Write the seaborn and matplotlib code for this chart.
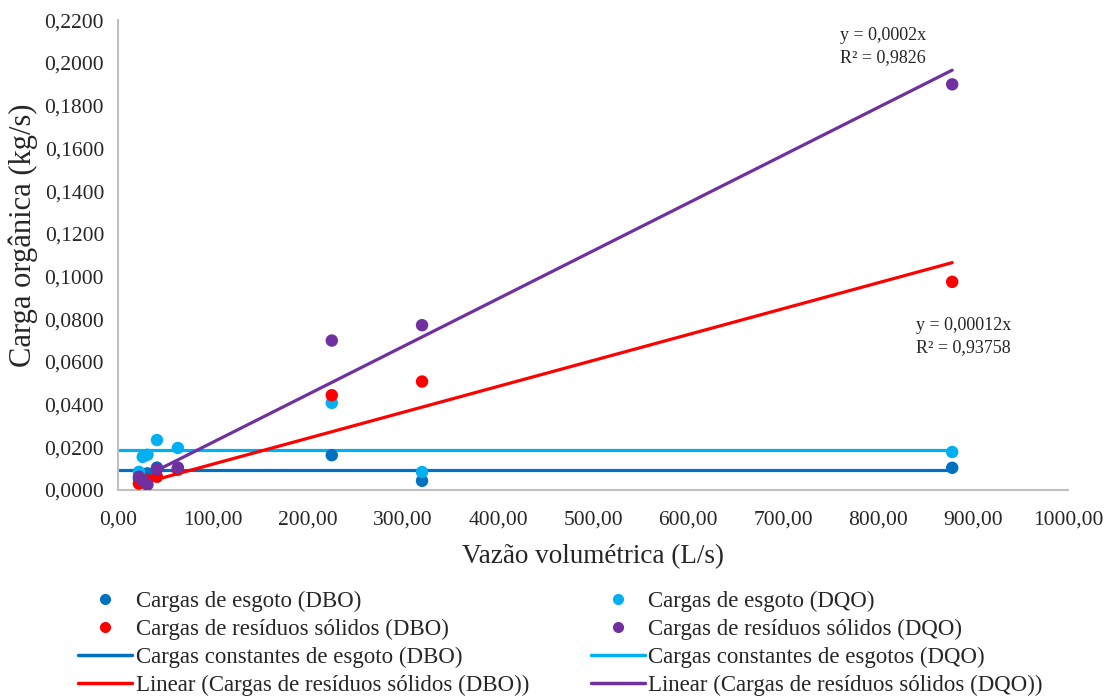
import numpy as np
import pandas as pd
import matplotlib
matplotlib.use('Agg')
import matplotlib.pyplot as plt
import seaborn as sns
from matplotlib.ticker import FuncFormatter, MultipleLocator
from matplotlib.lines import Line2D

# dados
vazao = [22, 26, 31, 41, 63, 225, 320, 878]
esgoto_dbo = [0.0052, 0.0070, 0.0078, 0.0105, 0.0098, 0.0163, 0.0043, 0.0104]
esgoto_dqo = [0.0085, 0.0155, 0.0165, 0.0234, 0.0197, 0.0408, 0.0084, 0.0178]
residuos_dbo = [0.0030, 0.0040, 0.0045, 0.0062, 0.0095, 0.0444, 0.0508, 0.0975]
residuos_dqo = [0.0062, 0.0045, 0.0025, 0.0098, 0.0105, 0.0700, 0.0772, 0.1900]
const_dbo = 0.0093
const_dqo = 0.0187

series = ['Cargas de esgoto (DBO)', 'Cargas de esgoto (DQO)',
          'Cargas de resíduos sólidos (DBO)', 'Cargas de resíduos sólidos (DQO)']
cores = ['#0070C0', '#00B0F0', '#FF0000', '#7030A0']

df = pd.DataFrame({
    'Vazao': vazao * 4,
    'Carga': esgoto_dbo + esgoto_dqo + residuos_dbo + residuos_dqo,
    'Serie': [s for s in series for _ in vazao],
})

sns.set_style('white')
plt.rcParams['font.family'] = ['Liberation Serif', 'DejaVu Serif']

fig = plt.figure(figsize=(11.08, 7), dpi=100)
ax = fig.add_axes([0.1065, 0.30, 0.8575, 0.671])

# linhas constantes (de 0 até a maior vazão)
x_const = [0, max(vazao)]
sns.lineplot(x=x_const, y=[const_dbo] * 2, color=cores[0], lw=2.3, ax=ax)
sns.lineplot(x=x_const, y=[const_dqo] * 2, color=cores[1], lw=2.3, ax=ax)

# linhas de tendência pela origem
xv = np.array(vazao, dtype=float)
x_fit = np.array([xv.min(), xv.max()])
coef_dbo = np.sum(xv * np.array(residuos_dbo)) / np.sum(xv ** 2)
coef_dqo = np.sum(xv * np.array(residuos_dqo)) / np.sum(xv ** 2)
sns.lineplot(x=x_fit, y=coef_dbo * x_fit, color=cores[2], lw=2.3, ax=ax)
sns.lineplot(x=x_fit, y=coef_dqo * x_fit, color=cores[3], lw=2.3, ax=ax)

sns.scatterplot(data=df, x='Vazao', y='Carga', hue='Serie', hue_order=series,
                palette=cores, s=80, edgecolor='none', legend=False, ax=ax, zorder=3)

ax.set_xlim(0, 1000)
ax.set_ylim(0, 0.22)
ax.xaxis.set_major_locator(MultipleLocator(100))
ax.yaxis.set_major_locator(MultipleLocator(0.02))
ax.xaxis.set_major_formatter(FuncFormatter(lambda v, p: f'{v:.2f}'.replace('.', ',')))
ax.yaxis.set_major_formatter(FuncFormatter(lambda v, p: f'{v:.4f}'.replace('.', ',')))
ax.tick_params(axis='y', length=0, labelsize=15.5, pad=10)
ax.tick_params(axis='x', length=0, labelsize=15.5, pad=15)
for lado in ['top', 'right']:
    ax.spines[lado].set_visible(False)
for lado in ['left', 'bottom']:
    ax.spines[lado].set_color('#BFBFBF')
    ax.spines[lado].set_linewidth(1.5)

ax.set_xlabel('Vazão volumétrica (L/s)', fontsize=19.5)
ax.xaxis.set_label_coords(0.5, -0.115)
ax.set_ylabel('Carga orgânica (kg/s)', fontsize=22)
ax.yaxis.set_label_coords(-0.084, 0.543)

ax.text(760, 0.2168, 'y = 0,0002x\nR² = 0,9826', fontsize=13, va='top', ha='left',
        linespacing=1.35)
ax.text(840, 0.0808, 'y = 0,00012x\nR² = 0,93758', fontsize=13, va='top', ha='left',
        linespacing=1.35)

# legenda em duas colunas
def ponto(c):
    return Line2D([], [], marker='o', color='none', markerfacecolor=c,
                  markeredgecolor='none', markersize=8)

def linha(c):
    return Line2D([], [], color=c, lw=2.5)

handles = [ponto(cores[0]), ponto(cores[2]), linha(cores[0]), linha(cores[2]),
           ponto(cores[1]), ponto(cores[3]), linha(cores[1]), linha(cores[3])]
labels = ['Cargas de esgoto (DBO)', 'Cargas de resíduos sólidos (DBO)',
          'Cargas constantes de esgoto (DBO)', 'Linear (Cargas de resíduos sólidos (DBO))',
          'Cargas de esgoto (DQO)', 'Cargas de resíduos sólidos (DQO)',
          'Cargas constantes de esgotos (DQO)', 'Linear (Cargas de resíduos sólidos (DQO))']
fig.legend(handles, labels, ncol=2, loc='upper left', bbox_to_anchor=(0.0605, 0.172),
           frameon=False, fontsize=16.5, handlelength=2.35, handletextpad=0.15,
           columnspacing=2.7, labelspacing=0.3, borderpad=0)

fig.savefig('out.png', dpi=100)
